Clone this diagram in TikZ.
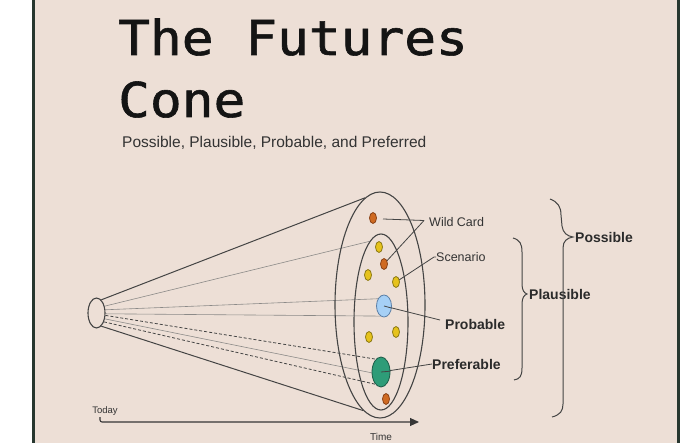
\documentclass[tikz,border=0pt]{standalone}
\usepackage{fontspec}
\setmainfont{Liberation Sans}
\newfontface\titlefont{DejaVu Sans Mono}[FakeBold=1.2]
\usetikzlibrary{arrows.meta,shapes.geometric}
\pgfdeclarelayer{paper}
\pgfdeclarelayer{lines}
\pgfsetlayers{paper,lines,main}
\definecolor{bg}{HTML}{EDDFD6}
\definecolor{frame}{HTML}{27372F}
\definecolor{stroke}{HTML}{444444}
\definecolor{faint}{HTML}{8C8A88}
\definecolor{txt}{HTML}{333333}
\definecolor{orangefill}{HTML}{CF6A22}
\definecolor{orangeline}{HTML}{8A4216}
\definecolor{yellowfill}{HTML}{E6C21C}
\definecolor{yellowline}{HTML}{8C7A14}
\definecolor{bluefill}{HTML}{A6D0F6}
\definecolor{blueline}{HTML}{5C7FA6}
\definecolor{greenfill}{HTML}{2E9C78}
\definecolor{greenline}{HTML}{1D5C48}
\tikzset{
  ring/.style={draw=stroke, line width=1.1pt, ellipse, inner sep=0pt},
  dotbase/.style={ellipse, inner sep=0pt, line width=0.8pt},
  odot/.style={dotbase, draw=orangeline, fill=orangefill, minimum width=7pt, minimum height=11pt},
  ydot/.style={dotbase, draw=yellowline, fill=yellowfill, minimum width=7pt, minimum height=11pt},
  bdot/.style={dotbase, draw=blueline, fill=bluefill, minimum width=15pt, minimum height=22pt},
  gdot/.style={dotbase, draw=greenline, fill=greenfill, minimum width=18pt, minimum height=30pt},
  conel/.style={draw=stroke, line width=1pt},
  thinl/.style={draw=faint, line width=0.6pt},
  dashl/.style={draw=stroke, line width=0.8pt, dash pattern=on 3pt off 2pt},
  labl/.style={draw=stroke, line width=0.8pt},
  bracel/.style={draw=stroke, line width=1pt},
  smalltxt/.style={text=txt, inner sep=0pt, font=\fontsize{12.5}{14}\selectfont},
  boldtxt/.style={text=txt!85!black, inner sep=0pt, font=\fontsize{14}{16}\selectfont\bfseries},
}
\begin{document}
\begin{tikzpicture}[x=1pt,y=-1pt]
\useasboundingbox (0,0) rectangle (693,443);
\begin{pgfonlayer}{paper}
\fill[white] (0,0) rectangle (693,443);
\fill[bg] (34,0) rectangle (678,443);
\fill[frame] (32,0) rectangle (35,443);
\fill[frame] (677,0) rectangle (680,443);
\end{pgfonlayer}

% title
\node[anchor=base west, inner sep=0pt, text=black!92] (t1) at (118,55)
  {\fontsize{48}{48}\titlefont\scalebox{1.1}[1]{The Futures}};
\node[anchor=base west, inner sep=0pt, text=black!92] (t2) at (118,117)
  {\fontsize{48}{48}\titlefont\scalebox{1.1}[1]{Cone}};
\node[anchor=base west, inner sep=0pt, text=txt] (sub) at (122,148)
  {\fontsize{15.5}{17}\selectfont Possible, Plausible, Probable, and Preferred};

% cone geometry
\node[ring, minimum width=17pt, minimum height=30pt] (apex) at (96.5,313) {};
\node[ring, minimum width=90pt, minimum height=226pt] (outer) at (380,305) {};
\node[ring, minimum width=54pt, minimum height=176pt] (inner) at (381,322) {};

% futures dots
\node[odot] (wc1) at (373,218) {};
\node[ydot] (s1) at (379,247) {};
\node[odot] (wc2) at (384,264) {};
\node[ydot] (s2) at (368,275) {};
\node[ydot] (s3) at (396,282) {};
\node[bdot] (blue) at (384,306) {};
\node[ydot] (s4) at (369,337) {};
\node[ydot] (s5) at (396,332) {};
\node[gdot] (green) at (381,372) {};
\node[odot] (wc3) at (386,399) {};

% labels
\node[smalltxt, anchor=west] (wild) at (429,222) {Wild Card};
\node[smalltxt, anchor=west] (scen) at (436,257) {Scenario};
\node[boldtxt, anchor=west] (prob) at (445,324) {Probable};
\node[boldtxt, anchor=west] (pref) at (432,364) {Preferable};
\node[boldtxt, anchor=west] (plaus) at (529,294) {Plausible};
\node[boldtxt, anchor=west] (poss) at (575,237) {Possible};
\node[text=txt, inner sep=0pt, font=\fontsize{9.5}{11}\selectfont] (today) at (105,411) {Today};
\node[text=txt, inner sep=0pt, font=\fontsize{10}{12}\selectfont] (time) at (381,437) {Time};

% connector helpers
\coordinate (wch) at (383,219);
\coordinate (wcj) at (424,220.5);
\coordinate (probj) at (440,320);
\coordinate (ax0) at (100,417);
\coordinate (ax1) at (419,422);

\begin{pgfonlayer}{lines}
% cone lines
\draw[conel] (apex.70) -- (outer.98);
\draw[conel] (apex.-70) -- (outer.-99);
\draw[thinl] (apex.40) -- (inner.98);
\draw[thinl] (apex.20) -- (blue.130);
\draw[thinl] (apex.-5) -- (blue.-110);
\draw[dashl] (apex.-15) -- (green.112);
\draw[thinl] (apex.-35) -- (green.185);
\draw[dashl] (apex.-50) -- (green.-115);
% label connectors
\draw[labl] (wch) -- (wcj);
\draw[labl] (wc2.center) -- (wcj);
\draw[labl] (s3.center) -- ([xshift=-2pt]scen.west) -- (scen.west);
\draw[labl] (blue.center) -- (probj);
\draw[labl] (green.center) -- (pref.west);
\end{pgfonlayer}
\draw[labl] (blue.center) -- (blue.-15);
\draw[labl] (green.center) -- (green.5);

% braces
\draw[bracel] (513,238) .. controls (520,240) and (522,244) .. (522,252)
  -- (522,284) .. controls (522,290) and (524,293) .. (527,294)
  .. controls (524,295) and (522,298) .. (522,304)
  -- (522,368) .. controls (522,376) and (520,379) .. (514,380);
\draw[bracel] (550,199) .. controls (558,202) and (561,207) .. (561,215)
  -- (562,226) .. controls (563,233) and (567,236) .. (573,237)
  .. controls (567,238) and (563,241) .. (563,248)
  -- (563,404) .. controls (563,411) and (560,415) .. (552,417);

% time axis
\draw[draw=stroke!80!black, line width=1.1pt, rounded corners=2pt, -{Triangle[length=9pt,width=8pt]}] (ax0) |- (ax1);
\end{tikzpicture}
\end{document}
